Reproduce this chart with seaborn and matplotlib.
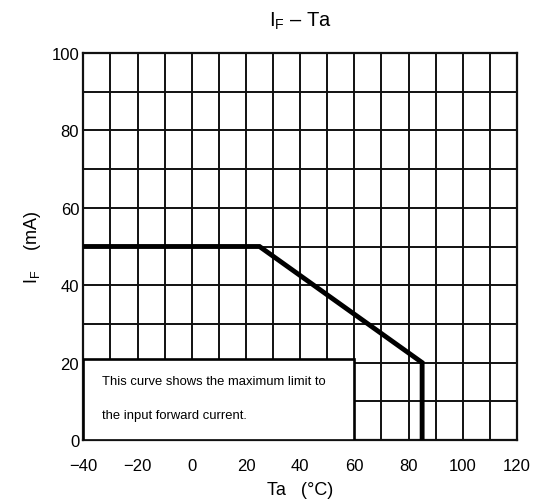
import matplotlib
matplotlib.use("Agg")
import matplotlib.pyplot as plt
import seaborn as sns
import pandas as pd
import numpy as np
from matplotlib.patches import Rectangle

# Data
ta_values = [-40, 25, 85, 85]
if_values = [50, 50, 20, 0]
x_ticks = [-40, -20, 0, 20, 40, 60, 80, 100, 120]
y_ticks = [0, 20, 40, 60, 80, 100]
note_lines = ["This curve shows the maximum limit to", "the input forward current."]

sns.set_style("white")
plt.rcParams['font.family'] = ['Liberation Sans', 'DejaVu Sans']
plt.rcParams['mathtext.fontset'] = 'custom'
plt.rcParams['mathtext.rm'] = 'Liberation Sans'
plt.rcParams['mathtext.it'] = 'Liberation Sans'
plt.rcParams['text.color'] = 'black'
plt.rcParams['axes.labelcolor'] = 'black'
plt.rcParams['xtick.color'] = 'black'
plt.rcParams['ytick.color'] = 'black'

df = pd.DataFrame({"Ta": ta_values, "IF": if_values})

fig = plt.figure(figsize=(5.34, 5.02), dpi=100)
ax = fig.add_axes([83.3 / 534, 1 - 441 / 502, (517 - 83.3) / 534, (441 - 54) / 502])

sns.lineplot(data=df, x="Ta", y="IF", sort=False, estimator=None, ax=ax,
             color="black", linewidth=3.5, zorder=4)
for ln in ax.lines:
    ln.set_solid_capstyle("butt")
    ln.set_solid_joinstyle("miter")

ax.set_xlim(-40, 120)
ax.set_ylim(0, 100)
ax.set_xticks(x_ticks)
ax.set_yticks(y_ticks)
ax.set_xticklabels([str(v).replace("-", "\u2212") for v in x_ticks])
ax.set_xticks(np.arange(-40, 121, 10), minor=True)
ax.set_yticks(np.arange(0, 101, 10), minor=True)
ax.grid(which="both", color="#111111", linewidth=1.4)
ax.set_axisbelow(True)
ax.tick_params(which="both", length=0, labelsize=12)
ax.tick_params(axis="x", which="major", pad=13)
ax.tick_params(axis="y", which="major", pad=3)
for s in ax.spines.values():
    s.set_color("#111111")
    s.set_linewidth(1.6)
    s.set_visible(True)

# note box
ax.add_patch(Rectangle((-40, 0), 100, 21, facecolor="white", edgecolor="black",
                       linewidth=1.9, zorder=3))
ax.text(-33, 15.2, note_lines[0], fontsize=9.4, va="center", ha="left", zorder=5)
ax.text(-33, 6.5, note_lines[1], fontsize=9.4, va="center", ha="left", zorder=5)

ax.set_xlabel("Ta   (°C)", fontsize=13, labelpad=6)
ax.set_ylabel("I$_{\\mathrm{F}}$    (mA)", fontsize=13, labelpad=6)
fig.text(0.5618, 1 - 21 / 502, "I$_{\\mathrm{F}}$ \u2013 Ta", fontsize=14.5, ha="center", va="center")

fig.savefig("out.png", dpi=100)
